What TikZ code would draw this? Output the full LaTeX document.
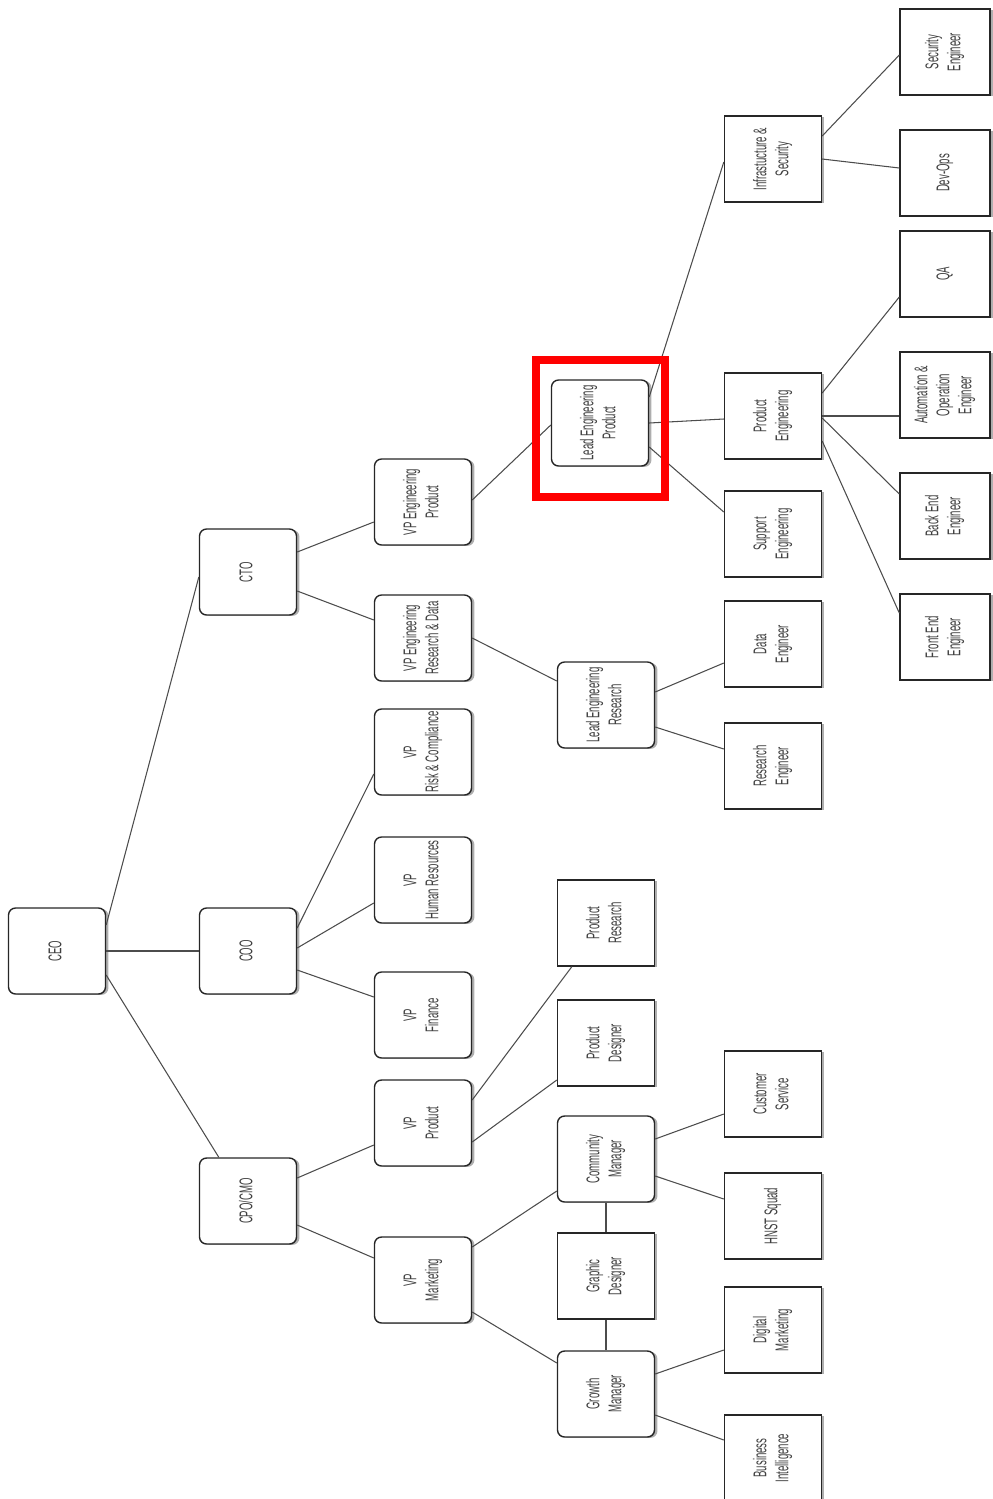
\documentclass[tikz,border=0pt]{standalone}
\usepackage{fontspec}
\newfontfamily\orgfont[FakeStretch=0.52]{Liberation Sans}
\usetikzlibrary{calc,shadows}
\newcommand{\vlabel}[1]{\rotatebox{90}{\begin{tabular}{@{}c@{}}#1\end{tabular}}}

\begin{document}
\begin{tikzpicture}[x=0.02cm, y=-0.02cm,
        box/.style={draw=black!85, line width=0.8pt, fill=white,
            minimum width=1.94cm, minimum height=1.72cm, inner sep=0pt,
            font=\orgfont\fontsize{10.5}{12.5}\selectfont, text=black!75,
            drop shadow={shadow xshift=1.7pt, shadow yshift=-0.5pt, fill=black!45, opacity=0.7}},
        rbox/.style={box, rounded corners=4pt},
        sbox/.style={box},
        tbox/.style={box, minimum width=1.8cm},
        link/.style={draw=black!70, line width=0.6pt},
        highlight/.style={draw=red, line width=4.4pt}]
        % page size of the reference, in pixels
        \useasboundingbox (0,0) rectangle (992,1499);

        % Top of the tree
        \node[rbox] (ceo) at (57,951) {\vlabel{CEO}};
        \node[rbox] (cto) at (248,572) {\vlabel{CTO}};
        \node[rbox] (coo) at (248,951) {\vlabel{COO}};
        \node[rbox] (cpo) at (248,1201) {\vlabel{CPO/CMO}};

        % VP column
        \node[rbox] (vpep) at (423,502) {\vlabel{VP Engineering\\Product}};
        \node[rbox] (vperd) at (423,638) {\vlabel{VP Engineering\\Research \& Data}};
        \node[rbox] (vprisk) at (423,752) {\vlabel{VP\\Risk \& Compliance}};
        \node[rbox] (vphr) at (423,880) {\vlabel{VP\\Human Resources}};
        \node[rbox] (vpfin) at (423,1015) {\vlabel{VP\\Finance}};
        \node[rbox] (vpprod) at (423,1123) {\vlabel{VP\\Product}};
        \node[rbox] (vpmkt) at (423,1280) {\vlabel{VP\\Marketing}};

        % Leads and teams
        \node[rbox] (lep) at (600,423) {\vlabel{Lead Engineering\\Product}};
        \node[rbox] (ler) at (606,705) {\vlabel{Lead Engineering\\Research}};
        \node[sbox] (prodres) at (606,923) {\vlabel{Product\\Research}};
        \node[sbox] (proddes) at (606,1043) {\vlabel{Product\\Designer}};
        \node[rbox] (comm) at (606,1159) {\vlabel{Community\\Manager}};
        \node[sbox] (graphic) at (606,1276) {\vlabel{Graphic\\Designer}};
        \node[rbox] (growth) at (606,1394) {\vlabel{Growth\\Manager}};

        % Fourth column
        \node[sbox] (infra) at (773,159) {\vlabel{Infrastucture \&\\Security}};
        \node[sbox] (prodeng) at (773,416) {\vlabel{Product\\Engineering}};
        \node[sbox] (support) at (773,534) {\vlabel{Support\\Engineering}};
        \node[sbox] (dataeng) at (773,644) {\vlabel{Data\\Engineer}};
        \node[sbox] (reseng) at (773,766) {\vlabel{Research\\Engineer}};
        \node[sbox] (custsvc) at (773,1094) {\vlabel{Customer\\Service}};
        \node[sbox] (hnst) at (773,1216) {\vlabel{HNST Squad}};
        \node[sbox] (digmkt) at (773,1330) {\vlabel{Digital\\Marketing}};
        \node[sbox] (bi) at (773,1458) {\vlabel{Business\\Intelligence}};

        % Engineers
        \node[tbox] (sec) at (945,52) {\vlabel{Security\\Engineer}};
        \node[tbox] (devops) at (945,173) {\vlabel{Dev-Ops}};
        \node[tbox] (qa) at (945,274) {\vlabel{QA}};
        \node[tbox] (auto) at (945,395) {\vlabel{Automation \&\\Operation\\Engineer}};
        \node[tbox] (backend) at (945,516) {\vlabel{Back End\\Engineer}};
        \node[tbox] (frontend) at (945,637) {\vlabel{Front End\\Engineer}};

        % Links from the CEO
        \draw[link] ($(ceo.east)+(0,-26)$) -- ($(cto.west)+(0,5)$);
        \draw[link] (ceo.east) -- (coo.west);
        \draw[link] ($(ceo.east)+(0,24)$) -- ($(cpo.north west)+(20,0)$);

        % Links to the VPs
        \draw[link] ($(cto.east)+(0,-20)$) -- ($(vpep.west)+(0,20)$);
        \draw[link] ($(cto.east)+(0,19)$) -- ($(vperd.west)+(0,-18)$);
        \draw[link] ($(coo.east)+(0,-23)$) -- ($(vprisk.west)+(0,22)$);
        \draw[link] ($(coo.east)+(0,-3)$) -- ($(vphr.west)+(0,23)$);
        \draw[link] ($(coo.east)+(0,19)$) -- ($(vpfin.west)+(0,-18)$);
        \draw[link] ($(cpo.east)+(0,-23)$) -- ($(vpprod.west)+(0,22)$);
        \draw[link] ($(cpo.east)+(0,24)$) -- ($(vpmkt.west)+(0,-22)$);

        % Links to the leads
        \draw[link] ($(vpep.east)+(0,-2)$) -- ($(lep.west)+(0,2)$);
        \draw[link] (vperd.east) -- ($(ler.west)+(0,-24)$);
        \draw[link] ($(vpprod.east)+(0,-23)$) -- ($(prodres.south west)+(15,0)$);
        \draw[link] ($(vpprod.east)+(0,19)$) -- ($(proddes.west)+(0,37)$);
        \draw[link] ($(vpmkt.east)+(0,-33)$) -- ($(comm.west)+(0,32)$);
        \draw[link] ($(vpmkt.east)+(0,32)$) -- ($(growth.west)+(0,-31)$);
        \draw[link] (comm.south) -- (graphic.north);
        \draw[link] (graphic.south) -- (growth.north);

        % Links to the teams
        \draw[link] ($(lep.east)+(0,-26)$) -- ($(infra.west)+(0,3)$);
        \draw[link] (lep.east) -- ($(prodeng.west)+(0,3)$);
        \draw[link] ($(lep.east)+(0,24)$) -- ($(support.west)+(0,-22)$);
        \draw[link] ($(ler.east)+(0,-13)$) -- ($(dataeng.west)+(0,19)$);
        \draw[link] ($(ler.east)+(0,22)$) -- ($(reseng.west)+(0,-17)$);
        \draw[link] ($(comm.east)+(0,-20)$) -- ($(custsvc.west)+(0,20)$);
        \draw[link] ($(comm.east)+(0,17)$) -- ($(hnst.west)+(0,-17)$);
        \draw[link] ($(growth.east)+(0,-20)$) -- ($(digmkt.west)+(0,20)$);
        \draw[link] ($(growth.east)+(0,21)$) -- ($(bi.west)+(0,-18)$);

        % Links to the engineers
        \draw[link] ($(infra.east)+(0,-23)$) -- ($(sec.west)+(0,3)$);
        \draw[link] (infra.east) -- ($(devops.west)+(0,-5)$);
        \draw[link] ($(prodeng.east)+(0,-23)$) -- ($(qa.west)+(0,23)$);
        \draw[link] (prodeng.east) -- ($(auto.west)+(0,21)$);
        \draw[link] ($(prodeng.east)+(0,2)$) -- ($(backend.west)+(0,-22)$);
        \draw[link] ($(prodeng.east)+(0,25)$) -- ($(frontend.west)+(0,-24)$);

        % Red frame round the lead of product engineering
        \draw[highlight] ($(lep.north west)+(-14.5,-19.5)$) rectangle ($(lep.south east)+(15.5,30)$);
    \end{tikzpicture}
\end{document}
